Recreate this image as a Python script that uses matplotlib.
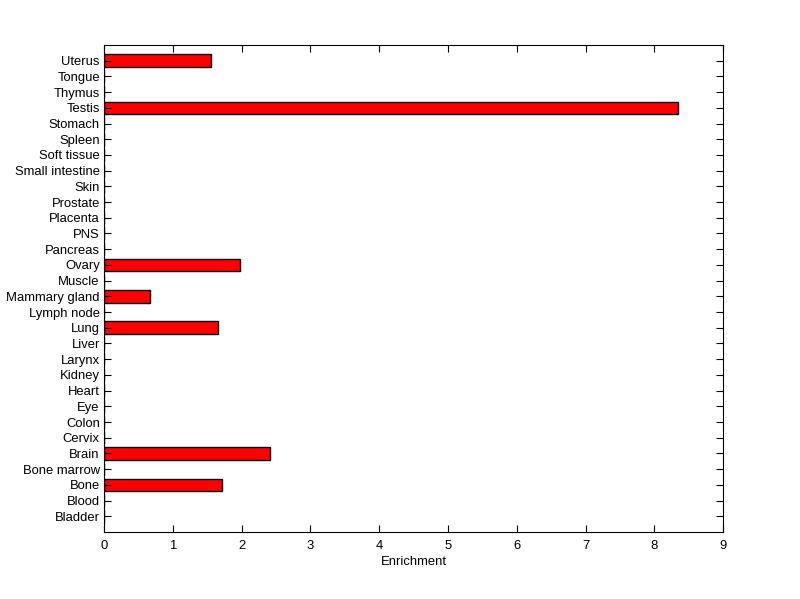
import matplotlib
matplotlib.use('Agg')
import matplotlib.pyplot as plt

# Dados
tecidos = ['Bladder', 'Blood', 'Bone', 'Bone marrow', 'Brain', 'Cervix', 'Colon',
           'Eye', 'Heart', 'Kidney', 'Larynx', 'Liver', 'Lung', 'Lymph node',
           'Mammary gland', 'Muscle', 'Ovary', 'Pancreas', 'PNS', 'Placenta',
           'Prostate', 'Skin', 'Small intestine', 'Soft tissue', 'Spleen',
           'Stomach', 'Testis', 'Thymus', 'Tongue', 'Uterus']
enriquecimento = [0, 0, 1.72, 0, 2.42, 0, 0,
                  0, 0, 0, 0, 0, 1.65, 0,
                  0.67, 0, 1.98, 0, 0, 0,
                  0, 0, 0, 0, 0,
                  0, 8.34, 0, 0, 1.56]
xticks = list(range(10))

plt.rcParams['font.family'] = ['Liberation Sans', 'DejaVu Sans']
plt.rcParams['font.size'] = 9.4

fig = plt.figure(figsize=(8, 5.99), dpi=100)
ax = fig.add_axes([0.13, 0.1119, 0.774, 0.813])

pos = list(range(1, len(tecidos) + 1))
ax.barh(pos, enriquecimento, height=0.8, color='#ff0000', edgecolor='black', linewidth=1)

ax.set_xlim(0, 9)
ax.set_ylim(0, len(tecidos) + 1)
ax.set_xticks(xticks)
ax.set_yticks(pos)
ax.set_yticklabels(tecidos)
ax.tick_params(direction='in', length=5, top=True, right=True, width=0.8, pad=3)
ax.tick_params(axis='x', pad=6)
for s in ax.spines.values():
    s.set_linewidth(0.8)
ax.set_xlabel('Enrichment', labelpad=3)

plt.savefig('out.png', dpi=100)
